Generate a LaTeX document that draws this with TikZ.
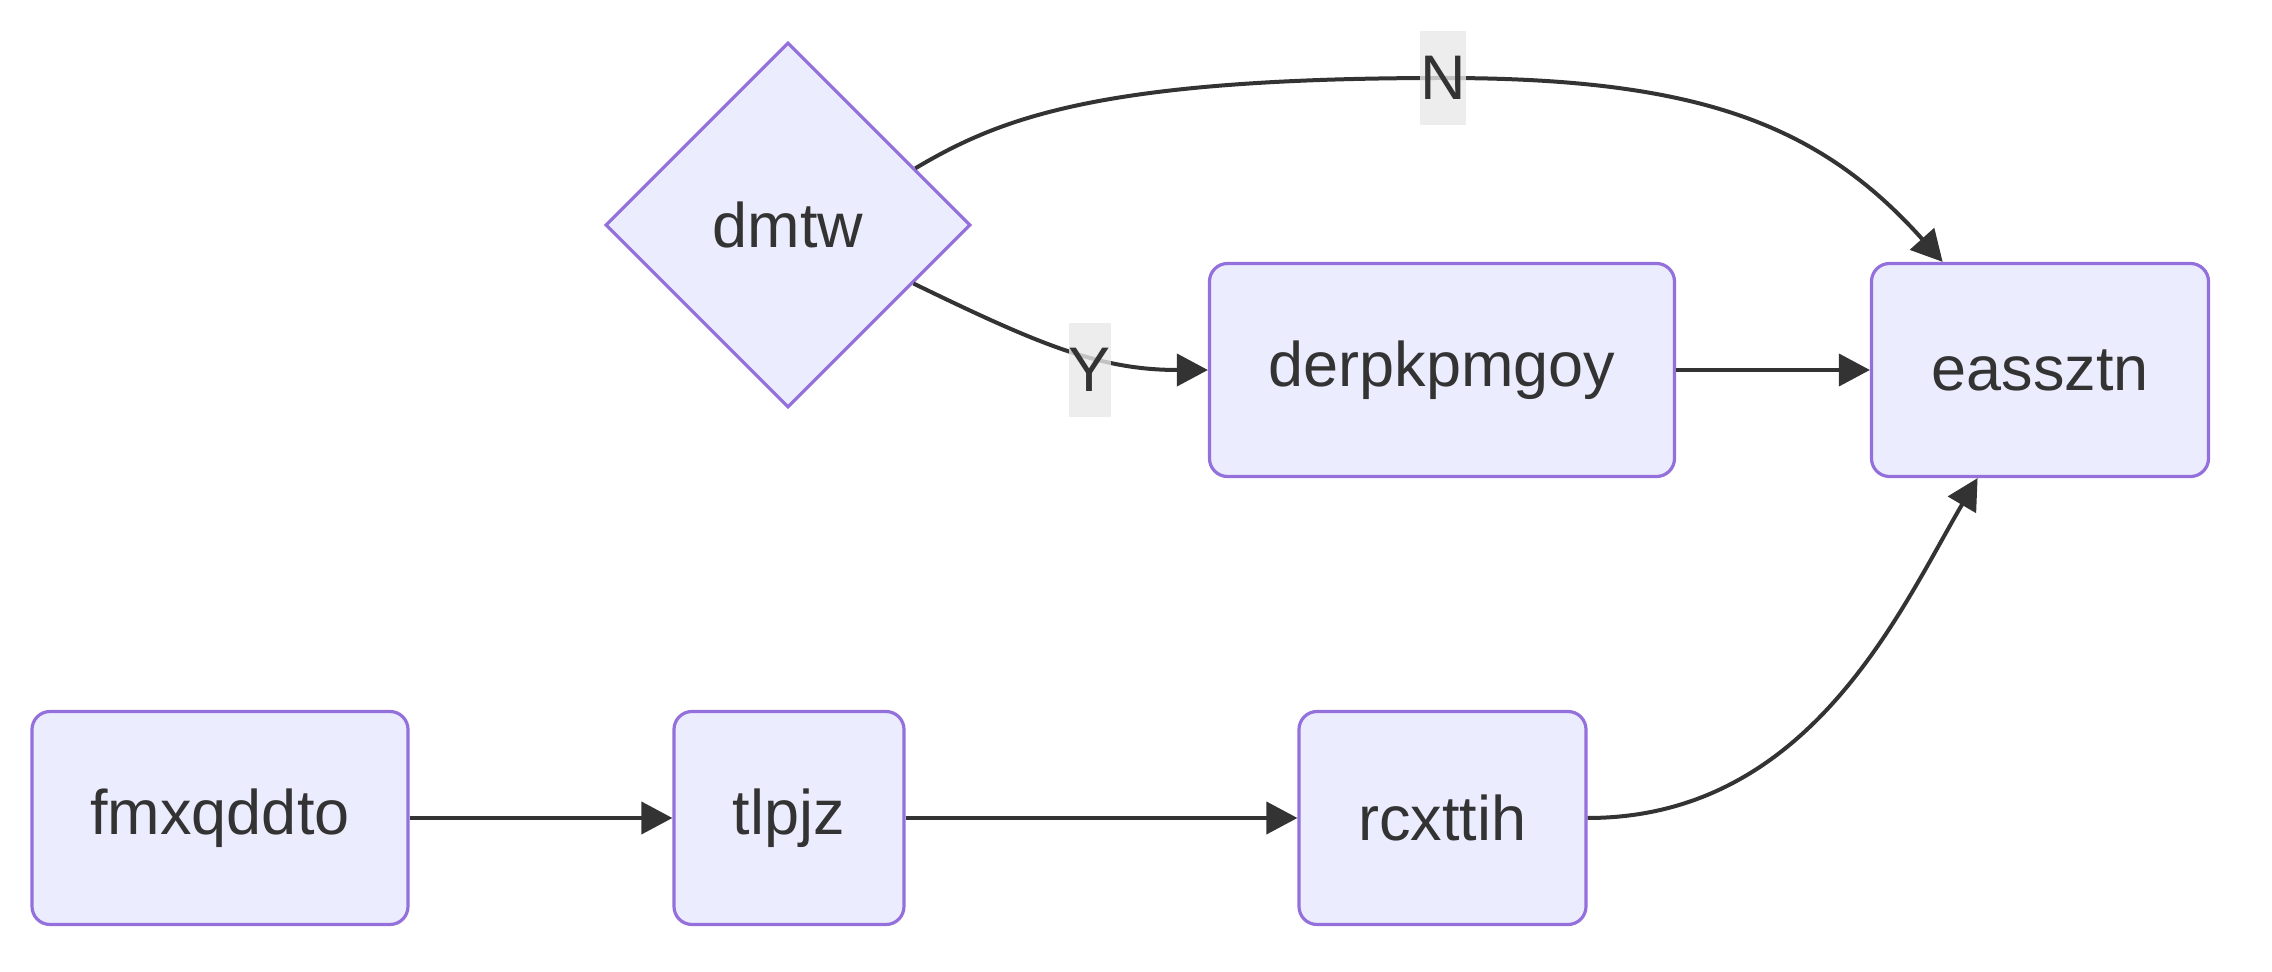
\documentclass[tikz,border=0pt]{standalone}
\usepackage{fontspec}
\setmainfont{Liberation Sans}
\usetikzlibrary{shapes.geometric,arrows.meta}
\definecolor{nodefill}{HTML}{ECECFF}
\definecolor{nodeline}{HTML}{9370DB}
\definecolor{ink}{HTML}{333333}
\definecolor{labelbg}{HTML}{E8E8E8}
\tikzset{
  box/.style={draw=nodeline, fill=nodefill, line width=1.6pt, rounded corners=9pt,
    minimum height=106.5pt, inner sep=0pt, text=ink, font=\fontsize{31.5}{47}\selectfont},
  decision/.style={draw=nodeline, fill=nodefill, line width=1.6pt, diamond, aspect=1,
    minimum width=182.5pt, minimum height=182.5pt, inner sep=0pt, text=ink,
    font=\fontsize{31.5}{47}\selectfont},
  edge/.style={draw=ink, line width=2pt, -{Triangle[length=15.5pt,width=16pt]}},
  elabel/.style={fill=labelbg, fill opacity=0.8, text opacity=1, text=ink, inner sep=0pt,
    minimum height=47pt, font=\fontsize{31.5}{47}\selectfont}
}
\begin{document}
\begin{tikzpicture}[x=0.5pt,y=-0.5pt]
\useasboundingbox (0,0) rectangle (2272,972);
\node[decision] (d) at (788,225) {dmtw};
\node[box, minimum width=232.5pt] (p) at (1442,370) {derpkpmgoy};
\node[box, minimum width=168.5pt] (e) at (2040,370) {eassztn};
\node[box, minimum width=188pt] (f) at (220,818) {fmxqddto};
\node[box, minimum width=115pt] (t) at (789,818) {tlpjz};
\node[box, minimum width=143.5pt] (r) at (1442.5,818) {rcxttih};
\coordinate (nl) at (1443,78);
\coordinate (yl) at (1090,370);
\draw[edge] (d.24.7) .. controls (1000,118) and (1100,78) .. (nl)
  .. controls (1700,78) and (1820,125) .. (e.132.2);
\draw[edge] (d.-25.8) .. controls (1040,345) and (1100,370) .. (p.west);
\draw[edge] (p.east) -- (e.west);
\draw[edge] (f.east) -- (t.west);
\draw[edge] (t.east) -- (r.west);
\draw[edge] (r.east) .. controls (1810,818) and (1900,610) .. (e.-120.3);
\node[elabel] (nlab) at (nl) {N};
\node[elabel] (ylab) at (yl) {Y};
\end{tikzpicture}
\end{document}
